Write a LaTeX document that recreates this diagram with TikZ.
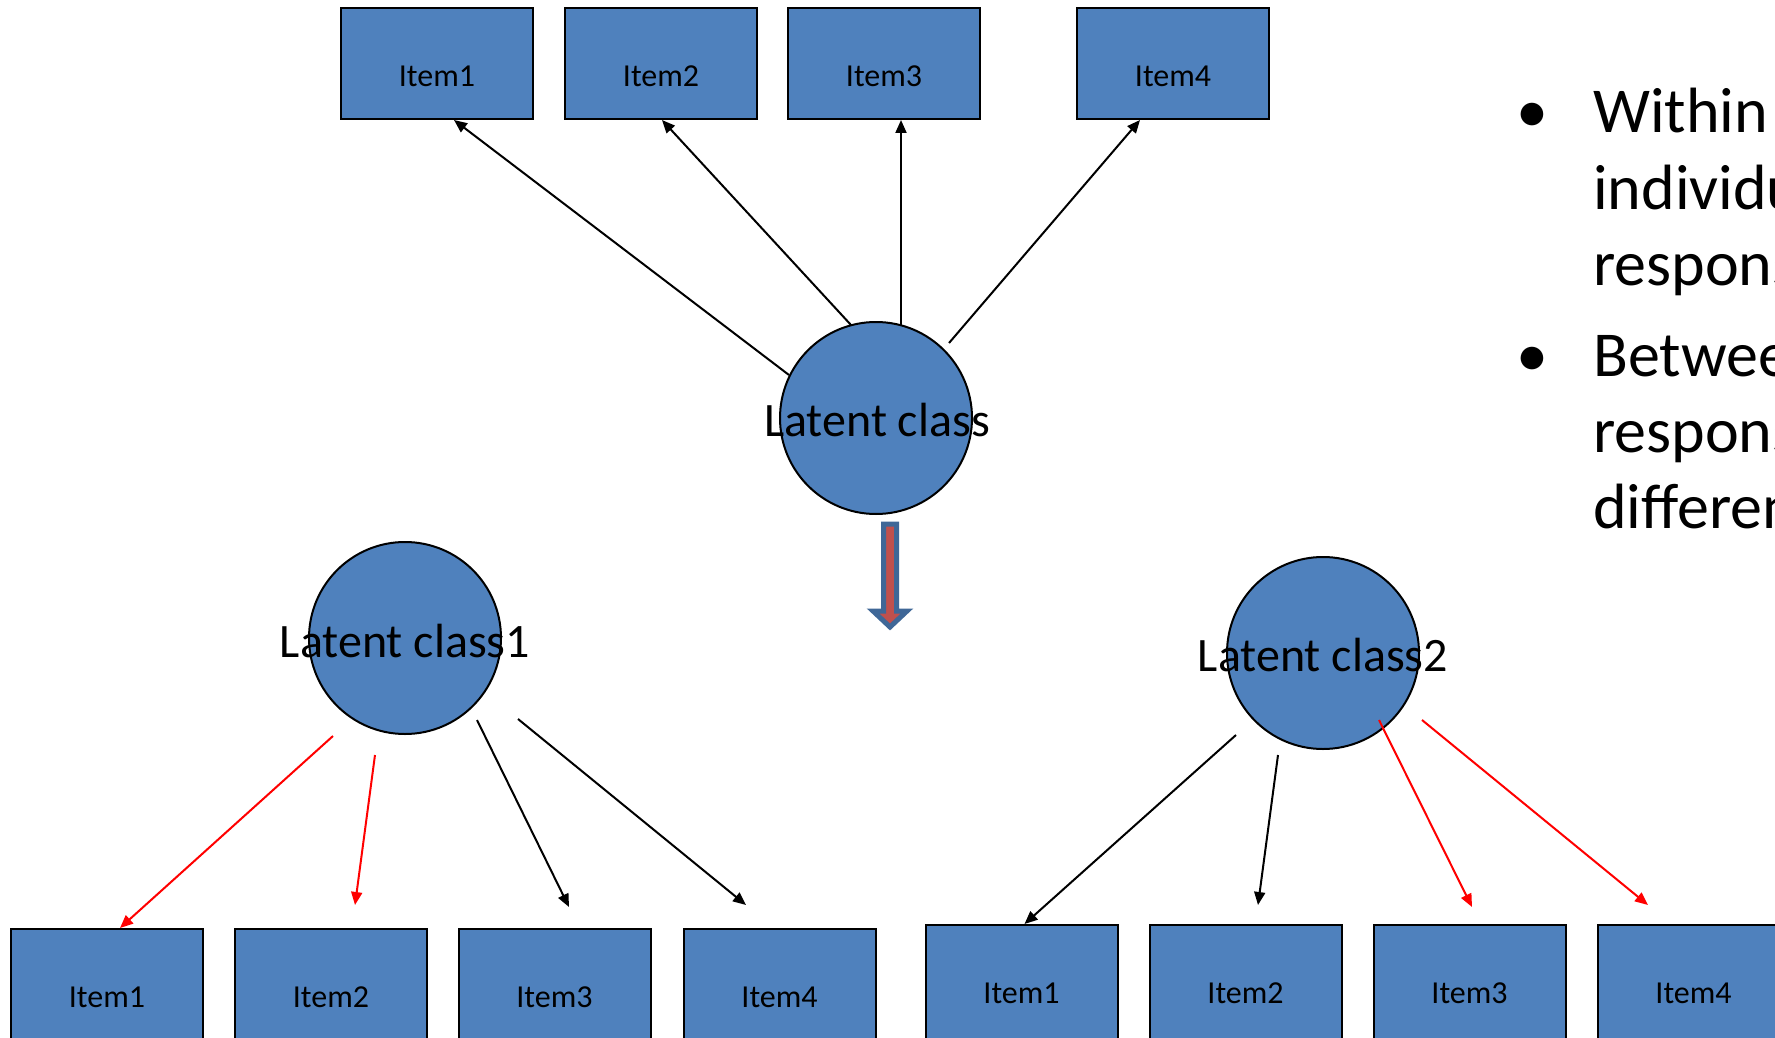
\documentclass[tikz,border=0pt]{standalone}
\usepackage{fontspec}
\setmainfont{Carlito}
\usetikzlibrary{arrows.meta,calc}
\definecolor{boxblue}{HTML}{4F81BD}
\definecolor{arrowblue}{HTML}{3F6797}
\definecolor{arrowred}{HTML}{C0504D}
\begin{document}
\begin{tikzpicture}[x=1pt,y=-1pt,
  itembox/.style={draw=black,line width=2pt,fill=boxblue,minimum width=192pt,inner sep=0pt,font=\fontsize{32}{38}\selectfont},
  topbox/.style={itembox,minimum height=111pt,text height=46pt,text depth=0pt},
  lowbox/.style={itembox,minimum height=136pt,text height=20.6pt,text depth=0pt},
  classcirc/.style={circle,draw=black,line width=2pt,fill=boxblue,minimum size=192pt,inner sep=0pt},
  classtext/.style={inner sep=0pt,font=\fontsize{48}{57}\selectfont},
  conn/.style={line width=2pt,-{Triangle[length=13pt,width=11pt]}},
  redconn/.style={conn,draw=red},
  bigtext/.style={inner sep=0pt,anchor=base west,font=\fontsize{64}{76}\selectfont},
  bullet/.style={inner sep=0pt,anchor=base,font=\fontsize{64}{76}\selectfont}
]
\useasboundingbox (0,0) rectangle (1775,1038);

% top part
\node[topbox] (t1) at (437,63.5) {Item1};
\node[topbox] (t2) at (661,63.5) {Item2};
\node[topbox] (t3) at (884,63.5) {Item3};
\node[topbox] (t4) at (1173,63.5) {Item4};
\node[classcirc] (c) at (876,418) {};
\node[classtext] (ct) at (877,420) {Latent class};

\draw[conn] ($(c)+(-87,-43)$) -- ($(t1.south)+(17,0)$);
\draw[conn] ($(c)+(-25,-93)$) -- ($(t2.south)+(1,0)$);
\draw[conn] ($(c)+(25,-93)$) -- ($(t3.south)+(17,0)$);
\draw[conn] ($(c)+(73,-75)$) -- ($(t4.south)+(-33,0)$);

% block arrow
\draw[line width=5pt,draw=arrowblue,fill=arrowred,line join=miter]
  (883.5,524) -- (896.5,524) -- (896.5,611) -- (907,611) -- (890,627)
  -- (873,611) -- (883.5,611) -- cycle;

% lower left
\node[classcirc] (l1) at (405,638) {};
\node[classtext] (l1t) at (405,641) {Latent class1};
\node[lowbox] (b1) at (107,997) {Item1};
\node[lowbox] (b2) at (331,997) {Item2};
\node[lowbox] (b3) at (554.5,997) {Item3};
\node[lowbox] (b4) at (779.5,997) {Item4};

\draw[redconn] ($(l1)+(-72,98)$) -- ($(b1.north)+(13,0)$);
\draw[redconn] ($(l1)+(-30,117)$) -- ($(b2.north)+(24,-23)$);
\draw[conn] ($(l1)+(72,82)$) -- ($(b3.north)+(14.5,-21)$);
\draw[conn] ($(l1)+(113,81)$) -- ($(b4.north)+(-33.5,-23)$);

% lower right
\node[classcirc] (r1) at (1323,653) {};
\node[classtext] (r1t) at (1323,655) {Latent class2};
\node[lowbox] (d1) at (1021.5,993) {Item1};
\node[lowbox] (d2) at (1245.5,993) {Item2};
\node[lowbox] (d3) at (1469.5,993) {Item3};
\node[lowbox] (d4) at (1693.5,993) {Item4};

\draw[conn] ($(r1)+(-87,82)$) -- ($(d1.north)+(3,0)$);
\draw[conn] ($(r1)+(-45,102)$) -- ($(d2.north)+(12.5,-19)$);
\draw[redconn] ($(r1)+(56,67)$) -- ($(d3.north)+(2.5,-17)$);
\draw[redconn] ($(r1)+(99,67)$) -- ($(d4.north)+(-45.5,-19)$);

% bullet text
\node[bullet] (p1) at (1532,133) {•};
\node[bigtext] (w1) at (1593,133) {Within};
\node[bigtext] (w2) at (1593,209) {individual};
\node[bigtext] (w3) at (1593,285) {responses};
\node[bullet] (p2) at (1532,376) {•};
\node[bigtext] (w4) at (1593,376) {Between};
\node[bigtext] (w5) at (1593,452) {responses};
\node[bigtext] (w6) at (1593,528) {different};
\end{tikzpicture}
\end{document}
